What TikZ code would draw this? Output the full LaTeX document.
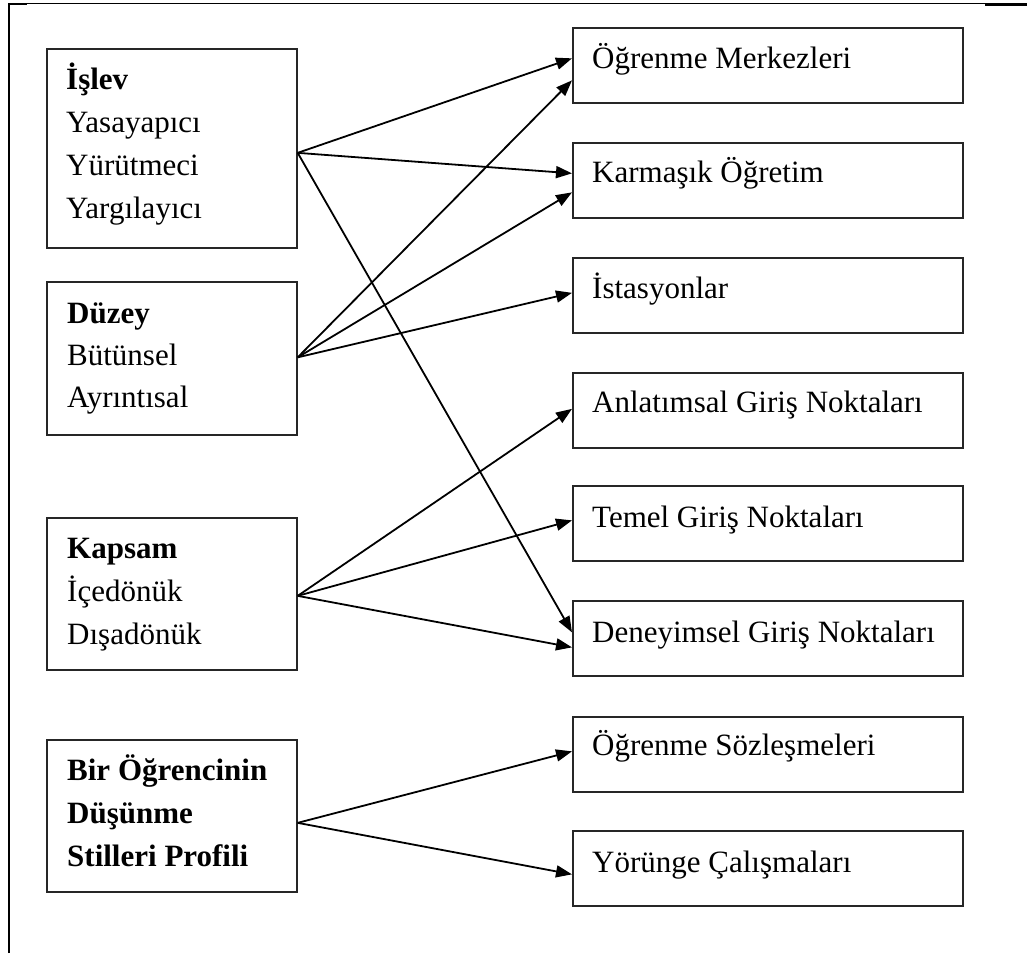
\documentclass[tikz,border=0pt]{standalone}
\usepackage{fontspec}
\setmainfont{Liberation Serif}
\usetikzlibrary{arrows.meta}
\begin{document}
\begin{tikzpicture}[x=1pt,y=-1pt,
  lbox/.style={draw=black!85, line width=1.7pt, anchor=north west, inner sep=0pt, minimum width=250pt},
  rbox/.style={draw=black!85, line width=1.7pt, anchor=north west, inner sep=0pt, minimum width=390pt, minimum height=75pt},
  txt/.style={anchor=base west, inner sep=0pt, font=\fontsize{31}{36}\selectfont},
  btxt/.style={txt, font=\fontsize{31}{36}\selectfont\bfseries},
  conn/.style={line width=1.8pt, -{Triangle[length=16pt,width=12pt]}},
  frame/.style={line width=1.3pt}]
\useasboundingbox (0,0) rectangle (1027,953);
% frame
\draw[frame] (9,953) -- (9,3.5) -- (1027,3.5);
\draw[line width=2.4pt] (8,4) -- (27,4);
\draw[line width=2.4pt] (985,4.5) -- (1027,4.5);
% left boxes
\node[lbox, minimum height=199pt] (islev) at (46,48) {};
\node[lbox, minimum height=153pt] (duzey) at (46,281) {};
\node[lbox, minimum height=152pt] (kapsam) at (46,517) {};
\node[lbox, minimum height=152pt] (bir) at (46,739) {};
% right boxes
\node[rbox] (om) at (572,27) {};
\node[rbox] (km) at (572,142) {};
\node[rbox] (ist) at (572,257) {};
\node[rbox] (an) at (572,372) {};
\node[rbox] (te) at (572,485) {};
\node[rbox] (de) at (572,600) {};
\node[rbox] (os) at (572,716) {};
\node[rbox] (yo) at (572,830) {};
% left texts
\node[btxt] (islev1) at (66,89) {İşlev};
\node[txt] (islev2) at (66,132) {Yasayapıcı};
\node[txt] (islev3) at (66,175) {Yürütmeci};
\node[txt] (islev4) at (66,218) {Yargılayıcı};
\node[btxt] (duzey1) at (67,323) {Düzey};
\node[txt] (duzey2) at (67,365) {Bütünsel};
\node[txt] (duzey3) at (67,407) {Ayrıntısal};
\node[btxt] (kapsam1) at (67,558) {Kapsam};
\node[txt] (kapsam2) at (67,601) {İçedönük};
\node[txt] (kapsam3) at (67,644) {Dışadönük};
\node[btxt] (bir1) at (67,780) {Bir Öğrencinin};
\node[btxt] (bir2) at (67,823) {Düşünme};
\node[btxt] (bir3) at (67,866) {Stilleri Profili};
% right texts
\node[txt] (omT) at (592,68) {Öğrenme Merkezleri};
\node[txt] (kmT) at (592,182) {Karmaşık Öğretim};
\node[txt] (istT) at (592,298) {İstasyonlar};
\node[txt] (anT) at (592,412) {Anlatımsal Giriş Noktaları};
\node[txt] (teT) at (592,527) {Temel Giriş Noktaları};
\node[txt] (deT) at (592,642) {Deneyimsel Giriş Noktaları};
\node[txt] (osT) at (592,755) {Öğrenme Sözleşmeleri};
\node[txt] (yoT) at (592,872) {Yörünge Çalışmaları};
% connectors
\draw[conn] ([yshift=-4.5pt]islev.east) -- ([yshift=7pt]om.west);
\draw[conn] ([yshift=-4.5pt]islev.east) -- ([yshift=7pt]km.west);
\draw[conn] ([yshift=-4.5pt]islev.east) -- ([yshift=6pt]de.west);
\draw[conn] ([yshift=1pt]duzey.east) -- ([yshift=-15pt]om.west);
\draw[conn] ([yshift=1pt]duzey.east) -- ([yshift=-12pt]km.west);
\draw[conn] ([yshift=1pt]duzey.east) -- ([yshift=2.5pt]ist.west);
\draw[conn] ([yshift=-2pt]kapsam.east) -- ([yshift=1.5pt]an.west);
\draw[conn] ([yshift=-2pt]kapsam.east) -- ([yshift=3pt]te.west);
\draw[conn] ([yshift=-2pt]kapsam.east) -- ([yshift=-9pt]de.west);
\draw[conn] ([yshift=-7pt]bir.east) -- ([yshift=3pt]os.west);
\draw[conn] ([yshift=-7pt]bir.east) -- ([yshift=-6pt]yo.west);
\end{tikzpicture}
\end{document}
